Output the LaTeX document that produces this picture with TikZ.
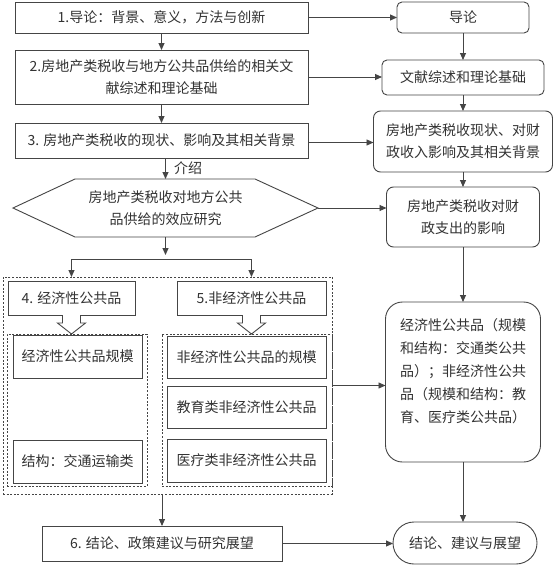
\documentclass[tikz,border=0pt]{standalone}
\usepackage{fontspec}
\setmainfont{Noto Sans CJK SC}
\usetikzlibrary{arrows.meta,calc}
\definecolor{ink}{HTML}{333333}
\definecolor{edge}{HTML}{454545}
\begin{document}
\begin{tikzpicture}[x=1pt,y=-1pt,
  font=\fontsize{14}{22}\selectfont,
  every node/.style={inner sep=0pt,outer sep=0pt,text=ink},
  bx/.style={draw=edge,line width=0.9pt,align=center},
  rbx/.style={draw=edge,line width=0.9pt,align=center,rounded corners=5pt},
  dbox/.style={draw=edge,line width=0.9pt,dash pattern=on 2pt off 1.6pt},
  arr/.style={draw=edge,line width=0.9pt,-{Triangle[length=7pt,width=6pt]}},
  ln/.style={draw=edge,line width=0.9pt},
  hol/.style={draw=edge,line width=0.9pt,fill=white,line join=miter}]
\useasboundingbox[fill=white] (0,0) rectangle (553,565);

% ---------- dashed groups ----------
\node[dbox,minimum width=329pt,minimum height=217pt] (outer) at (167.5,385.5) {};
\node[dbox,minimum width=140pt,minimum height=152pt] (inL) at (77,410) {};
\node[dbox,minimum width=170pt,minimum height=152pt] (inR) at (247,410) {};

% ---------- left column ----------
\node[bx,minimum width=293pt,minimum height=31pt] (b1) at (161.5,17.5) {1.导论：背景、意义，方法与创新};
\node[bx,minimum width=293pt,minimum height=54pt] (b2) at (161.5,77) {2.房地产类税收与地方公共品供给的相关文\\献综述和理论基础};
\node[bx,minimum width=293pt,minimum height=35pt] (b3) at (161.5,140.5) {3. 房地产类税收的现状、影响及其相关背景};

\coordinate (hexL) at (13,208);
\coordinate (hexR) at (318,208);
\coordinate (hexT) at (165.5,179);
\coordinate (hexB) at (165.5,237);
\draw[ln,line join=miter] (hexL) -- (75,179) -- (255,179) -- (hexR) -- (255,237) -- (75,237) -- cycle;
\node[align=center] (hex) at (165.5,208) {房地产类税收对地方公共\\品供给的效应研究};
\node[anchor=west] (intro) at (174,168) {介绍};

\node[bx,minimum width=127pt,minimum height=34pt] (b4) at (71.5,298) {4. 经济性公共品};
\node[bx,minimum width=149pt,minimum height=34pt] (b5) at (251.5,298) {5.非经济性公共品};

\node[bx,minimum width=129pt,minimum height=43pt] (a1) at (77.5,356.5) {经济性公共品规模};
\node[bx,minimum width=129pt,minimum height=43pt] (a2) at (77.5,461.5) {结构：交通运输类};

\node[bx,minimum width=159pt,minimum height=42pt] (c1) at (246.5,357) {非经济性公共品的规模};
\node[bx,minimum width=159pt,minimum height=42pt] (c2) at (246.5,407) {教育类非经济性公共品};
\node[bx,minimum width=159pt,minimum height=43pt] (c3) at (246.5,460.5) {医疗类非经济性公共品};

\node[bx,minimum width=240pt,minimum height=35pt] (b6) at (162,543.5) {6. 结论、政策建议与研究展望};

% ---------- right column ----------
\node[rbx,minimum width=132pt,minimum height=31pt] (r1) at (463,17.5) {导论};
\node[rbx,minimum width=162pt,minimum height=35pt] (r2) at (463,77.5) {文献综述和理论基础};
\node[rbx,rounded corners=7pt,minimum width=179pt,minimum height=61pt] (r3) at (463,141.5) {房地产类税收现状、对财\\政收入影响及其相关背景};
\node[rbx,rounded corners=7pt,minimum width=153pt,minimum height=60pt] (r4) at (463,217) {房地产类税收对财\\政支出的影响};
\node[rbx,rounded corners=17pt,minimum width=155pt,minimum height=160pt,align=left,font=\fontsize{14}{23}\selectfont] (r5) at (463,382) {经济性公共品（规模\\和结构：交通类公共\\品）；非经济性公共\\品（规模和结构：教\\育、医疗类公共品）\\\mbox{}};
\node[rbx,rounded corners=21pt,minimum width=144pt,minimum height=42pt] (r6) at (465,543) {结论、建议与展望};

% ---------- connectors: left column ----------
\draw[arr] (b1.south) -- (b2.north);
\draw[arr] (b2.south) -- (b3.north);
\draw[arr] (b3.south -| hexT) -- (hexT);
\coordinate (split) at (165.5,259);
\draw[arr] (hexB) -- ($(split)+(0,-4)$);
\draw[ln] (b4.north |- split) -- (b5.north |- split);
\draw[arr] (b4.north |- split) -- (b4.north |- outer.north);
\draw[arr] (b5.north |- split) -- (b5.north |- outer.north);
\draw[arr] (outer.south -| b6.north) -- (b6.north);

% hollow arrows
\draw[hol] ($(b4.south)+(-9,0)$) -- ++(0,8) -- ++(-5,0) -- ($(b4.south |- inL.north)$) -- ($(b4.south)+(14,8)$) -- ++(-5,0) -- ++(0,-8);
\draw[hol] ($(b5.south)+(-9,0)$) -- ++(0,8) -- ++(-5,0) -- ($(b5.south |- inR.north)$) -- ($(b5.south)+(14,8)$) -- ++(-5,0) -- ++(0,-8);

% ---------- connectors: across ----------
\draw[arr] (b1.east) -- (r1.west);
\draw[arr] (b2.east) -- (b2.east -| r2.west);
\draw[arr] ($(b3.east)+(0,2)$) -- ($(b3.east -| r3.west)+(0,2)$);
\draw[arr] (hexR) -- (hexR -| r4.west);
\draw[arr] (outer.east) -- (outer.east -| r5.west);
\draw[arr] (b6.east) -- (b6.east -| r6.west);

% ---------- connectors: right column ----------
\draw[arr] (r1.south) -- (r2.north);
\draw[arr] (r2.south) -- (r3.north);
\draw[arr] (r3.south) -- (r4.north);
\draw[arr] (r4.south) -- (r5.north);
\draw[arr] (r5.south) -- (r5.south |- r6.north);
\end{tikzpicture}
\end{document}
